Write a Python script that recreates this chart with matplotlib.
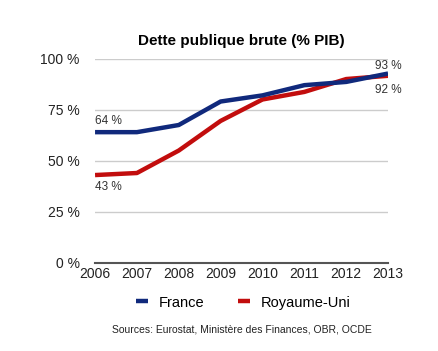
import matplotlib.pyplot as plt

plt.rcParams['font.family'] = ['Liberation Sans', 'DejaVu Sans']

years = [2006, 2007, 2008, 2009, 2010, 2011, 2012, 2013]
france = [64, 64, 67.5, 79, 82, 87, 88.6, 92.7]
royaume_uni = [43, 44, 55, 69.5, 80, 83.7, 90, 91.6]
y_ticks = [0, 25, 50, 75, 100]

fig = plt.figure(figsize=(4.38, 3.51), dpi=100)
ax = fig.add_axes([0.217, 0.251, 0.669, 0.582])

navy = '#10297c'
red = '#c20d0d'

ax.plot(years, france, color=navy, lw=3.2, solid_capstyle='butt', zorder=3, label='France')
ax.plot(years, royaume_uni, color=red, lw=3.2, solid_capstyle='butt', zorder=2, label='Royaume-Uni')

ax.set_xlim(years[0], years[-1])
ax.set_ylim(0, 100)
ax.set_xticks(years)
ax.set_yticks(y_ticks)
ax.set_yticklabels([f'{v} %' for v in y_ticks])
ax.tick_params(length=0, labelsize=10, colors='#222222')
ax.tick_params(axis='y', pad=11)
ax.tick_params(axis='x', pad=3)
for s in ['left', 'right', 'top']:
    ax.spines[s].set_visible(False)
ax.spines['bottom'].set_color('#555555')
ax.spines['bottom'].set_linewidth(1.5)
ax.grid(axis='y', color='#cccccc', lw=1)
ax.set_axisbelow(True)
ax.patch.set_visible(False)

lbl = dict(fontsize=8.5, color='#333333')
ax.annotate(f'{france[0]:.0f} %', (years[0], france[0]), xytext=(0, 4), textcoords='offset points', ha='left', va='bottom', **lbl)
ax.annotate(f'{royaume_uni[0]:.0f} %', (years[0], royaume_uni[0]), xytext=(0, -4), textcoords='offset points', ha='left', va='top', **lbl)
ax.annotate(f'{france[-1]:.0f} %', (years[-1], france[-1]), xytext=(0, 1), textcoords='offset points', ha='center', va='bottom', **lbl)
ax.annotate(f'{royaume_uni[-1]:.0f} %', (years[-1], royaume_uni[-1]), xytext=(0, -6), textcoords='offset points', ha='center', va='top', **lbl)

fig.text(0.552, 0.883, 'Dette publique brute (% PIB)', ha='center', va='center', fontsize=11, fontweight='bold')

fig.legend(loc='center', bbox_to_anchor=(0.555, 0.138), ncol=2, frameon=False, fontsize=10.5,
           handlelength=0.85, columnspacing=2.3, handletextpad=0.7)

fig.text(0.552, 0.06, 'Sources: Eurostat, Ministère des Finances, OBR, OCDE', ha='center', va='center', fontsize=7.5, color='#222222')

fig.savefig('out.png', dpi=100)
